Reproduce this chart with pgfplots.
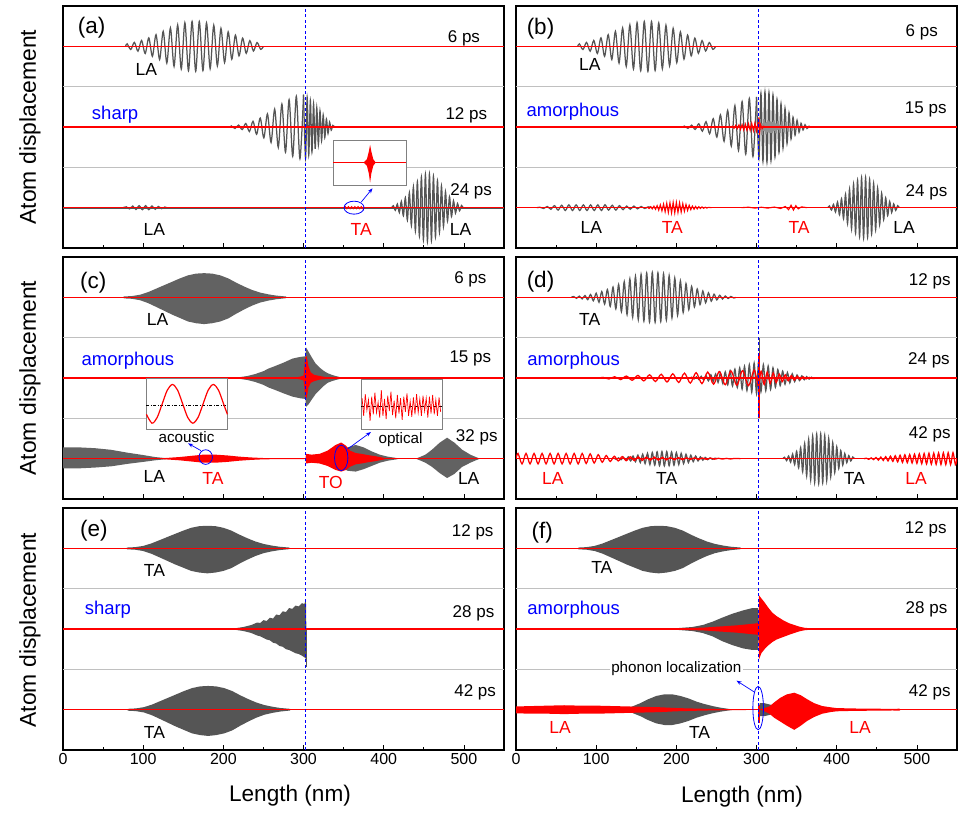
\documentclass[border=0pt]{standalone}
\usepackage{pgfplots}
\pgfplotsset{compat=1.18}
\usepackage{pgfplotstable}
\usetikzlibrary{arrows.meta}
\usepackage{fontspec}
\setmainfont{Liberation Sans}
\definecolor{dg}{HTML}{555555}
\definecolor{cg}{HTML}{626262}
\definecolor{sepg}{HTML}{C0C0C0}
\definecolor{rr}{HTML}{FF0000}
\definecolor{bb}{HTML}{0000FF}
\newcommand\fntps{\fontsize{17}{17}\selectfont}
\newcommand\fntla{\fontsize{17.5}{17.5}\selectfont}
\newcommand\fntam{\fontsize{18.5}{18.5}\selectfont}
\newcommand\fntpl{\fontsize{22.5}{22.5}\selectfont}
\newcommand\fntsm{\fontsize{15.2}{15.2}\selectfont}

% ---------- zigzag (oscillation) tables: x y ----------
\pgfplotstableread[row sep=\\]{x y\\
78 0\\ 80 0.031\\ 84.5 -0.039\\ 89 0.049\\ 93.5 -0.060\\ 98 0.073\\ 102.5 -0.089\\ 107 0.105\\ 111.5 -0.124\\ 116 0.144\\ 120.5 -0.164\\ 125 0.186\\ 129.5 -0.207\\ 134 0.228\\ 138.5 -0.248\\ 143 0.265\\ 147.5 -0.281\\ 152 0.294\\ 156.5 -0.303\\ 161 0.309\\ 165.5 -0.31\\ 170 0.308\\ 174.5 -0.301\\ 179 0.291\\ 183.5 -0.277\\ 188 0.261\\ 192.5 -0.242\\ 197 0.223\\ 201.5 -0.201\\ 206 0.180\\ 210.5 -0.159\\ 215 0.139\\ 219.5 -0.119\\ 224 0.102\\ 228.5 -0.086\\ 233 0.071\\ 237.5 -0.058\\ 242 0.047\\ 246.5 -0.037\\ 250 0\\}\tLAsix

\pgfplotstableread[row sep=\\]{x y\\
208 0\\ 210 0.013\\ 214.5 -0.018\\ 219 0.024\\ 223.5 -0.032\\ 228 0.043\\ 232.5 -0.056\\ 237 0.071\\ 241.5 -0.090\\ 246 0.111\\ 250.5 -0.135\\ 255 0.162\\ 259.5 -0.191\\ 264 0.222\\ 268.5 -0.253\\ 273 0.284\\ 277.5 -0.313\\ 282 0.340\\ 286.5 -0.363\\ 291 0.381\\ 295.5 -0.393\\ 300 0.40\\}\tMidL

\pgfplotstableread[row sep=\\]{x y\\
300 0.40\\ 302.5 -0.39\\ 304.5 0.37\\ 306.5 -0.35\\ 308.5 0.33\\ 310.5 -0.31\\ 312.5 0.29\\ 314.5 -0.27\\ 316.5 0.24\\ 318.5 -0.22\\ 320.5 0.2\\ 322.5 -0.17\\ 324.5 0.15\\ 326.5 -0.13\\ 328.5 0.1\\ 330.5 -0.08\\ 332.5 0.06\\ 334.5 -0.04\\ 336.5 0.02\\ 338.5 0\\}\tRa

\pgfplotstableread[row sep=\\]{x y\\
300 0.40\\ 303 -0.42\\ 305.5 0.45\\ 308 -0.46\\ 310.5 0.47\\ 313 -0.47\\ 315.5 0.46\\ 318 -0.45\\ 320.5 0.43\\ 323 -0.40\\ 325.5 0.37\\ 328 -0.34\\ 330.5 0.31\\ 333 -0.28\\ 335.5 0.25\\ 338 -0.22\\ 340.5 0.19\\ 343 -0.16\\ 345.5 0.13\\ 348 -0.11\\ 350.5 0.09\\ 353 -0.07\\ 355.5 0.05\\ 358 -0.04\\ 360.5 0.03\\ 363 -0.02\\ 365.5 0.01\\ 367 0\\}\tRb

\pgfplotstableread[row sep=\\]{x y\\
410 0\\ 412 0.024\\ 414.5 -0.033\\ 417 0.045\\ 419.5 -0.060\\ 422 0.078\\ 424.5 -0.100\\ 427 0.125\\ 429.5 -0.154\\ 432 0.186\\ 434.5 -0.220\\ 437 0.255\\ 439.5 -0.290\\ 442 0.324\\ 444.5 -0.354\\ 447 0.380\\ 449.5 -0.401\\ 452 0.414\\ 454.5 -0.42\\ 457 0.417\\ 459.5 -0.407\\ 462 0.389\\ 464.5 -0.365\\ 467 0.336\\ 469.5 -0.304\\ 472 0.269\\ 474.5 -0.234\\ 477 0.199\\ 479.5 -0.166\\ 482 0.136\\ 484.5 -0.110\\ 487 0.086\\ 489.5 -0.067\\ 492 0.051\\ 494.5 -0.038\\ 497 0.028\\ 499 0\\}\tBig

\pgfplotstableread[row sep=\\]{x y\\
75 0\\ 79 0.01\\ 83 -0.015\\ 87 0.02\\ 91 -0.022\\ 95 0.025\\ 99 -0.025\\ 103 0.025\\ 107 -0.025\\ 111 0.022\\ 115 -0.02\\ 119 0.015\\ 123 -0.012\\ 127 0.008\\ 131 -0.005\\ 135 0\\}\tAbs

\pgfplotstableread[row sep=\\]{x y\\
350 0\\ 352 0.012\\ 354 -0.012\\ 356 0.012\\ 358 -0.012\\ 360 0.012\\ 362 -0.012\\ 364 0.012\\ 366 -0.012\\ 368 0.012\\ 370 -0.012\\ 372 0.012\\ 374 -0.012\\ 376 0\\}\tAbr

\pgfplotstableread[row sep=\\]{x y\\
268 0\\ 270 0.01\\ 272 -0.015\\ 274 0.02\\ 276 -0.02\\ 278 0.025\\ 280 -0.03\\ 282 0.03\\ 284 -0.035\\ 286 0.035\\ 288 -0.04\\ 290 0.04\\ 292 -0.04\\ 294 0.045\\ 296 -0.045\\ 298 0.05\\ 300 -0.05\\ 302 0.05\\ 303 0.12\\ 303.5 -0.1\\ 305 0.03\\ 307 -0.02\\ 309 0.01\\ 311 0\\}\tBmR

\pgfplotstableread[row sep=\\]{x y\\
26 0\\ 30 0.005\\ 34.5 -0.01\\ 39 0.015\\ 43.5 -0.02\\ 48 0.025\\ 52.5 -0.03\\ 57 0.03\\ 61.5 -0.035\\ 66 0.035\\ 70.5 -0.035\\ 75 0.035\\ 79.5 -0.035\\ 84 0.035\\ 88.5 -0.035\\ 93 0.035\\ 97.5 -0.035\\ 102 0.035\\ 106.5 -0.035\\ 111 0.035\\ 115.5 -0.03\\ 120 0.03\\ 124.5 -0.03\\ 129 0.025\\ 133.5 -0.025\\ 138 0.02\\ 142.5 -0.02\\ 147 0.02\\ 151.5 -0.015\\ 156 0.015\\ 160.5 -0.01\\ 165 0.01\\ 170 0\\}\tBbG

\pgfplotstableread[row sep=\\]{x y\\
162 0\\ 164 0.005\\ 166 -0.01\\ 168 0.012\\ 170 -0.015\\ 172 0.018\\ 174 -0.02\\ 176 0.025\\ 178 -0.03\\ 180 0.035\\ 182 -0.04\\ 184 0.045\\ 186 -0.05\\ 188 0.055\\ 190 -0.06\\ 192 0.06\\ 194 -0.065\\ 196 0.065\\ 198 -0.065\\ 200 0.065\\ 202 -0.06\\ 204 0.06\\ 206 -0.055\\ 208 0.05\\ 210 -0.045\\ 212 0.04\\ 214 -0.035\\ 216 0.03\\ 218 -0.025\\ 220 0.02\\ 222 -0.02\\ 224 0.015\\ 226 -0.015\\ 228 0.012\\ 230 -0.01\\ 232 0.01\\ 234 -0.008\\ 236 0.006\\ 238 -0.005\\ 240 0.004\\ 244 0\\}\tBbR

\pgfplotstableread[row sep=\\]{x y\\
281 0\\ 290 0.006\\ 298 -0.006\\ 306 0.006\\ 314 -0.006\\ 322 0.008\\ 330 -0.01\\ 336 0.015\\ 340 -0.025\\ 343 0.03\\ 346 -0.03\\ 349 0.025\\ 352 -0.015\\ 356 0.01\\ 363 0\\}\tBbRt

\pgfplotstableread[row sep=\\]{x y\\
69 0\\ 72 0.01\\ 75.5 -0.012\\ 79 0.015\\ 82.5 -0.019\\ 86 0.023\\ 89.5 -0.029\\ 93 0.035\\ 96.5 -0.043\\ 100 0.051\\ 103.5 -0.061\\ 107 0.072\\ 110.5 -0.084\\ 114 0.097\\ 117.5 -0.112\\ 121 0.127\\ 124.5 -0.143\\ 128 0.160\\ 131.5 -0.178\\ 135 0.195\\ 138.5 -0.213\\ 142 0.230\\ 145.5 -0.246\\ 149 0.261\\ 152.5 -0.274\\ 156 0.286\\ 159.5 -0.296\\ 163 0.303\\ 166.5 -0.307\\ 170 0.31\\ 173.5 -0.31\\ 177 0.306\\ 180.5 -0.300\\ 184 0.292\\ 187.5 -0.281\\ 191 0.269\\ 194.5 -0.254\\ 198 0.239\\ 201.5 -0.222\\ 205 0.205\\ 208.5 -0.188\\ 212 0.170\\ 215.5 -0.153\\ 219 0.136\\ 222.5 -0.120\\ 226 0.105\\ 229.5 -0.091\\ 233 0.079\\ 236.5 -0.067\\ 240 0.056\\ 243.5 -0.047\\ 247 0.039\\ 250.5 -0.032\\ 254 0.026\\ 257.5 -0.021\\ 261 0.017\\ 264.5 -0.014\\ 268 0.011\\ 271.5 -0.008\\ 274 0\\}\tTAd

\pgfplotstableread[row sep=\\]{x y\\
217 0\\ 219 0.01\\ 222 -0.012\\ 225 0.015\\ 228 -0.018\\ 231 0.021\\ 234 -0.025\\ 237 0.03\\ 240 -0.035\\ 243 0.04\\ 246 -0.045\\ 249 0.05\\ 252 -0.055\\ 255 0.062\\ 258 -0.07\\ 261 0.077\\ 264 -0.085\\ 267 0.093\\ 270 -0.1\\ 273 0.11\\ 276 -0.118\\ 279 0.127\\ 282 -0.137\\ 285 0.146\\ 288 -0.155\\ 291 0.165\\ 294 -0.175\\ 297 0.185\\ 300 -0.195\\ 302.5 0.2\\ 305.5 -0.17\\ 308.5 0.165\\ 311.5 -0.158\\ 314.5 0.15\\ 317.5 -0.14\\ 320.5 0.127\\ 323.5 -0.115\\ 326.5 0.105\\ 329.5 -0.095\\ 332.5 0.086\\ 335.5 -0.077\\ 338.5 0.068\\ 341.5 -0.06\\ 344.5 0.052\\ 347.5 -0.045\\ 350.5 0.038\\ 353.5 -0.032\\ 356.5 0.027\\ 359.5 -0.022\\ 362.5 0.018\\ 365.5 -0.014\\ 368.5 0.01\\ 371.5 -0.007\\ 374.5 0.004\\ 377 0\\}\tDmG

\pgfplotstableread[row sep=\\]{x y\\
105 0\\ 108.6 0.008\\ 115.9 -0.012\\ 123.1 0.016\\ 130.4 -0.02\\ 137.6 0.024\\ 144.9 -0.028\\ 152.1 0.032\\ 159.4 -0.036\\ 166.6 0.04\\ 173.9 -0.043\\ 181.1 0.046\\ 188.4 -0.05\\ 195.6 0.053\\ 202.9 -0.056\\ 210.1 0.06\\ 217.4 -0.063\\ 224.6 0.067\\ 231.9 -0.07\\ 239.1 0.074\\ 246.4 -0.077\\ 253.6 0.08\\ 260.9 -0.083\\ 268.1 0.086\\ 275.4 -0.089\\ 282.6 0.092\\ 289.9 -0.095\\ 297.1 0.098\\ 302 -0.09\\ 305.75 0.085\\ 309.5 -0.08\\ 313.25 0.074\\ 317 -0.068\\ 320.75 0.062\\ 324.5 -0.056\\ 328.25 0.05\\ 332 -0.045\\ 335.75 0.04\\ 339.5 -0.035\\ 343.25 0.03\\ 347 -0.026\\ 350.75 0.022\\ 354.5 -0.018\\ 358.25 0.014\\ 362 -0.011\\ 365.75 0.008\\ 369.5 -0.005\\ 373.25 0.003\\ 377 0\\}\tDmR

\pgfplotstableread[row sep=\\]{x y\\
0 0\\ 2.5 0.065\\ 7.5 -0.065\\ 12.5 0.065\\ 17.5 -0.065\\ 22.5 0.065\\ 27.5 -0.065\\ 32.5 0.065\\ 37.5 -0.065\\ 42.5 0.065\\ 47.5 -0.065\\ 52.5 0.065\\ 57.5 -0.065\\ 62.5 0.065\\ 67.5 -0.065\\ 72.5 0.065\\ 77.5 -0.065\\ 82.5 0.065\\ 87.5 -0.06\\ 92.5 0.06\\ 97.5 -0.055\\ 102.5 0.05\\ 107.5 -0.045\\ 112.5 0.04\\ 117.5 -0.035\\ 122.5 0.03\\ 127.5 -0.028\\ 132.5 0.026\\ 137.5 -0.025\\ 142.5 0.024\\ 147.5 -0.023\\ 152.5 0.022\\ 157.5 -0.021\\ 162.5 0.02\\ 167.5 -0.02\\ 172.5 0.019\\ 177.5 -0.018\\ 182.5 0.017\\ 187.5 -0.016\\ 192.5 0.015\\ 197.5 -0.014\\ 202.5 0.013\\ 207.5 -0.012\\ 212.5 0.011\\ 217.5 -0.01\\ 222.5 0.01\\ 227.5 -0.009\\ 232.5 0.008\\ 237.5 -0.008\\ 242.5 0.007\\ 247.5 -0.006\\ 252.5 0.005\\ 257.5 -0.005\\ 262.5 0.004\\ 267.5 -0.004\\ 272.5 0.003\\ 280 0\\}\tDbL

\pgfplotstableread[row sep=\\]{x y\\
119 0\\ 122 0.006\\ 125 -0.008\\ 128 0.010\\ 131 -0.013\\ 134 0.016\\ 137 -0.019\\ 140 0.023\\ 143 -0.028\\ 146 0.033\\ 149 -0.038\\ 152 0.044\\ 155 -0.049\\ 158 0.055\\ 161 -0.061\\ 164 0.067\\ 167 -0.073\\ 170 0.077\\ 173 -0.082\\ 176 0.085\\ 179 -0.088\\ 182 0.089\\ 185 -0.09\\ 188 0.089\\ 191 -0.088\\ 194 0.085\\ 197 -0.082\\ 200 0.077\\ 203 -0.073\\ 206 0.067\\ 209 -0.061\\ 212 0.055\\ 215 -0.049\\ 218 0.044\\ 221 -0.038\\ 224 0.033\\ 227 -0.028\\ 230 0.023\\ 233 -0.019\\ 236 0.016\\ 239 -0.013\\ 242 0.010\\ 245 -0.008\\ 248 0.006\\ 251 0\\}\tDbT

\pgfplotstableread[row sep=\\]{x y\\
434 0\\ 437 0.005\\ 440 -0.008\\ 443 0.01\\ 446 -0.012\\ 449 0.015\\ 452 -0.018\\ 455 0.02\\ 458 -0.022\\ 461 0.025\\ 464 -0.028\\ 467 0.031\\ 470 -0.034\\ 473 0.037\\ 476 -0.04\\ 479 0.043\\ 482 -0.046\\ 485 0.048\\ 488 -0.05\\ 491 0.052\\ 494 -0.054\\ 497 0.056\\ 500 -0.058\\ 503 0.06\\ 506 -0.062\\ 509 0.064\\ 512 -0.065\\ 515 0.067\\ 518 -0.068\\ 521 0.07\\ 524 -0.07\\ 527 0.072\\ 530 -0.072\\ 533 0.073\\ 536 -0.073\\ 539 0.074\\ 542 -0.074\\ 545 0.075\\ 548 -0.075\\ 550 0\\}\tDbR

\pgfplotstableread[row sep=\\]{x y\\
104 0.55\\ 111 0.44\\ 117.4 0.51\\ 123.75 0.68\\ 130.1 0.85\\ 136.5 0.92\\ 142.9 0.85\\ 149.25 0.68\\ 155.6 0.51\\ 162 0.44\\ 168.4 0.51\\ 174.75 0.68\\ 181.1 0.85\\ 187.5 0.92\\ 193.9 0.85\\ 200.25 0.68\\ 205 0.55\\}\tAc

\pgfplotstableread[row sep=\\]{x y\\
373 0.1\\ 375 -0.12\\ 377 0.15\\ 379 -0.05\\ 381 0.08\\ 383 -0.18\\ 385 0.12\\ 387 -0.1\\ 389 0.17\\ 391 -0.08\\ 393 0.05\\ 395 -0.14\\ 397 0.2\\ 399 -0.12\\ 401 0.09\\ 403 -0.16\\ 405 0.13\\ 407 -0.06\\ 409 0.18\\ 411 -0.11\\ 413 0.07\\ 415 -0.15\\ 417 0.14\\ 419 -0.09\\ 421 0.1\\ 423 -0.17\\ 425 0.12\\ 427 -0.07\\ 429 0.16\\ 431 -0.12\\ 433 0.06\\ 435 -0.13\\ 437 0.11\\ 439 -0.1\\ 441 0.15\\ 443 -0.08\\ 445 0.09\\ 447 -0.12\\ 449 0.13\\ 451 -0.06\\ 453 0.1\\ 455 -0.14\\ 457 0.12\\ 459 -0.09\\ 461 0.14\\ 463 -0.1\\ 465 0.08\\ 467 -0.12\\ 469 0.11\\ 471 -0.07\\}\tOp

% ---------- envelope tables: x upper lower (each starts and ends at zero) ----------
\pgfplotstableread[row sep=\\]{x u l\\
79 0 0\\ 80 0.01 0.012\\ 90 0.015 0.017\\ 100 0.03 0.033\\ 110 0.06 0.066\\ 120 0.10 0.11\\ 130 0.14 0.155\\ 140 0.18 0.2\\ 150 0.22 0.24\\ 160 0.255 0.28\\ 170 0.275 0.3\\ 180 0.28 0.31\\ 190 0.275 0.3\\ 200 0.255 0.28\\ 210 0.22 0.245\\ 220 0.17 0.19\\ 230 0.125 0.14\\ 240 0.085 0.095\\ 250 0.055 0.06\\ 260 0.035 0.038\\ 270 0.02 0.022\\ 282 0.01 0.01\\ 283 0 0\\}\tTAdense

\pgfplotstableread[row sep=\\]{x u l\\
375 0 0\\ 379 0.04 0.04\\ 381.5 0.14 0.14\\ 383 0.22 0.25\\ 384.5 0.14 0.14\\ 387 0.04 0.04\\ 390 0 0\\}\tDia

\pgfplotstableread[row sep=\\]{x u l\\
207 0 0\\ 208 0.003 0.003\\ 220 0.01 0.01\\ 230 0.025 0.025\\ 240 0.05 0.05\\ 250 0.085 0.085\\ 257 0.12 0.12\\ 265 0.15 0.15\\ 275 0.19 0.19\\ 286 0.24 0.23\\ 295 0.26 0.25\\ 302.5 0.27 0.26\\ 303 0.38 0.36\\ 306 0.33 0.33\\ 310 0.26 0.27\\ 315 0.18 0.2\\ 320 0.13 0.15\\ 325 0.09 0.1\\ 330 0.06 0.06\\ 335 0.04 0.04\\ 340 0.025 0.025\\ 345 0.012 0.012\\ 350 0.005 0.005\\ 352 0 0\\}\tCmid

\pgfplotstableread[row sep=\\]{x u l\\
285 0 0\\ 295 0.015 0.015\\ 300 0.03 0.03\\ 302 0.25 0.22\\ 304 0.27 0.25\\ 306 0.15 0.12\\ 309 0.07 0.06\\ 313 0.04 0.04\\ 320 0.025 0.02\\ 328 0.01 0.01\\ 336 0 0\\}\tCmidR

\pgfplotstableread[row sep=\\]{x u l\\
0 0 0\\ 0.1 0.14 0.12\\ 20 0.14 0.12\\ 40 0.13 0.11\\ 60 0.11 0.095\\ 80 0.075 0.065\\ 100 0.045 0.04\\ 115 0.02 0.02\\ 130 0.005 0.005\\ 135 0 0\\}\tCbl

\pgfplotstableread[row sep=\\]{x u l\\
115 0 0\\ 130 0.01 0.01\\ 145 0.02 0.02\\ 160 0.035 0.035\\ 175 0.05 0.05\\ 190 0.05 0.05\\ 205 0.04 0.04\\ 220 0.025 0.025\\ 235 0.015 0.015\\ 250 0.008 0.008\\ 275 0.005 0.005\\ 302 0.004 0.004\\ 303 0 0\\}\tCbTA

\pgfplotstableread[row sep=\\]{x u l\\
335 0 0\\ 345 0.1 0.1\\ 355 0.14 0.15\\ 365 0.17 0.16\\ 375 0.14 0.13\\ 385 0.09 0.09\\ 395 0.05 0.05\\ 405 0.025 0.025\\ 415 0.01 0.01\\ 420 0 0\\}\tCbG

\pgfplotstableread[row sep=\\]{x u l\\
302.5 0 0\\ 303 0.06 0.06\\ 310 0.05 0.05\\ 320 0.06 0.06\\ 330 0.1 0.09\\ 340 0.17 0.14\\ 347 0.2 0.16\\ 353 0.16 0.14\\ 358 0.1 0.1\\ 365 0.07 0.07\\ 372 0.06 0.06\\ 380 0.045 0.045\\ 390 0.03 0.03\\ 400 0.01 0.01\\ 403 0 0\\}\tCbTO

\pgfplotstableread[row sep=\\]{x u l\\
440 0 0\\ 445 0.02 0.02\\ 452 0.05 0.05\\ 460 0.11 0.1\\ 470 0.2 0.18\\ 479 0.26 0.24\\ 488 0.2 0.19\\ 498 0.11 0.1\\ 508 0.05 0.05\\ 515 0.02 0.02\\ 520 0 0\\}\tCbR

\pgfplotstableread[row sep=\\]{x u l\\
198 0 0\\ 205 0.003 0.003\\ 215 0.01 0.01\\ 225 0.025 0.025\\ 235 0.05 0.05\\ 242 0.08 0.08\\ 246 0.075 0.09\\ 250 0.11 0.11\\ 254 0.10 0.13\\ 258 0.14 0.14\\ 262 0.13 0.17\\ 266 0.18 0.18\\ 270 0.17 0.21\\ 274 0.22 0.22\\ 278 0.21 0.25\\ 282 0.26 0.26\\ 286 0.25 0.28\\ 290 0.29 0.30\\ 294 0.28 0.31\\ 298 0.32 0.33\\ 301 0.31 0.35\\ 303 0.36 0.37\\ 303.5 0 0\\}\tEm

\pgfplotstableread[row sep=\\]{x u l\\
149 0 0\\ 150 0.003 0.003\\ 200 0.01 0.01\\ 220 0.025 0.025\\ 233 0.05 0.05\\ 245 0.09 0.09\\ 257 0.14 0.15\\ 270 0.19 0.2\\ 283 0.23 0.24\\ 295 0.26 0.26\\ 302 0.26 0.26\\ 303 0 0\\}\tFmG

\pgfplotstableread[row sep=\\]{x u l\\
143 0 0\\ 144 0.003 0.003\\ 200 0.008 0.008\\ 233 0.017 0.017\\ 257 0.033 0.033\\ 275 0.045 0.045\\ 290 0.06 0.06\\ 300 0.07 0.07\\ 302.5 0.08 0.08\\ 303 0.42 0.38\\ 306 0.38 0.3\\ 310 0.33 0.25\\ 315 0.26 0.2\\ 320 0.2 0.16\\ 325 0.16 0.13\\ 333 0.11 0.1\\ 341 0.07 0.07\\ 353 0.03 0.03\\ 360 0.015 0.015\\ 366 0.01 0.01\\ 370 0.012 0.012\\ 372 0.005 0.005\\ 373 0 0\\}\tFmR

\pgfplotstableread[row sep=\\]{x u l\\
128 0 0\\ 135 0.01 0.01\\ 145 0.04 0.04\\ 155 0.08 0.08\\ 165 0.13 0.13\\ 175 0.17 0.17\\ 185 0.19 0.19\\ 195 0.19 0.19\\ 205 0.17 0.17\\ 215 0.14 0.14\\ 225 0.1 0.1\\ 235 0.07 0.07\\ 245 0.045 0.045\\ 255 0.025 0.025\\ 265 0.01 0.01\\ 272 0 0\\}\tFbG

\pgfplotstableread[row sep=\\]{x u l\\
0 0 0\\ 0.1 0.04 0.045\\ 20 0.045 0.05\\ 40 0.05 0.05\\ 60 0.055 0.055\\ 80 0.05 0.05\\ 100 0.05 0.05\\ 120 0.045 0.045\\ 140 0.04 0.04\\ 160 0.035 0.035\\ 180 0.03 0.03\\ 200 0.02 0.02\\ 230 0.012 0.012\\ 260 0.006 0.006\\ 300 0.003 0.003\\ 302 0 0\\}\tFbRL

\pgfplotstableread[row sep=\\]{x u l\\
302 0 0\\ 304 0.08 0.08\\ 310 0.08 0.08\\ 318 0.06 0.06\\ 326 0.04 0.04\\ 335 0.015 0.015\\ 340 0 0\\}\tFbGb

\pgfplotstableread[row sep=\\]{x u l\\
305 0 0\\ 310 0.02 0.02\\ 316 0.04 0.05\\ 322 0.09 0.1\\ 330 0.15 0.15\\ 338 0.19 0.2\\ 347 0.21 0.25\\ 355 0.18 0.2\\ 363 0.13 0.14\\ 372 0.08 0.09\\ 382 0.045 0.05\\ 392 0.03 0.03\\ 400 0.02 0.02\\ 420 0.015 0.015\\ 450 0.012 0.012\\ 470 0.01 0.01\\ 478 0.012 0.012\\ 480 0 0\\}\tFbRR

% ---------- helpers ----------
\newcommand{\zz}[5]{\addplot[#5, line width=1.25pt, smooth, forget plot] table[x expr=#2, y expr={#3+#4*\thisrow{y}}] {#1};}
\newcommand{\zs}[5]{\addplot[#5, line width=1.1pt, forget plot] table[x expr=#2, y expr={#3+#4*\thisrow{y}}] {#1};}
% envelope: upper half and lower half filled separately (each path closes along the baseline)
\newcommand{\env}[5]{%
 \addplot[fill=#5, draw=none, forget plot] table[x expr=#2, y expr={#3+#4*\thisrow{u}}] {#1};
 \addplot[fill=#5, draw=none, forget plot] table[x expr=#2, y expr={#3-#4*\thisrow{l}}] {#1};}
\newcommand{\seps}{%
 \addplot[sepg, line width=0.9pt] coordinates {(0,0.5)(550,0.5)};
 \addplot[sepg, line width=0.9pt] coordinates {(0,1.5)(550,1.5)};}
\newcommand{\bases}{%
 \addplot[rr, line width=1.1pt] coordinates {(0,2)(550,2)};
 \addplot[rr, line width=1.1pt] coordinates {(0,1)(550,1)};
 \addplot[rr, line width=1.1pt] coordinates {(0,0)(550,0)};}
\newcommand{\iface}{\addplot[bb, line width=0.95pt, dash pattern=on 3pt off 2.5pt] coordinates {(303,-0.5)(303,2.5)};}

\pgfplotsset{
 panel/.style={
  scale only axis, width=441pt, height=242pt,
  xmin=0, xmax=550, ymin=-0.5, ymax=2.5,
  axis line style={line width=1.1pt},
  xtick={0,100,200,300,400,500},
  minor xtick={50,150,250,350,450},
  xtick pos=left, ytick=\empty,
  tick align=inside,
  major tick length=5pt, minor tick length=3pt,
  tick style={black, line width=0.8pt},
  tick label style={font=\fontsize{16}{16}\selectfont},
  /pgf/number format/assume math mode=true,
  anchor=south west,
 },
 notick/.style={xticklabels={}},
}

\begin{document}
\begin{tikzpicture}
\path[use as bounding box] (0,0) rectangle (974pt,-814pt);

% ================= (a) =================
\begin{axis}[panel, notick, at={(63pt,-248pt)}]
\seps
\zz{\tLAsix}{\thisrow{x}}{2}{1}{dg}
\zz{\tMidL}{\thisrow{x}}{1}{1}{dg}
\zz{\tRa}{\thisrow{x}}{1}{1}{dg}
\addplot[dg, line width=1pt] coordinates {(0,-0.015)(550,-0.015)};
\zz{\tAbs}{\thisrow{x}}{0}{1}{dg}
\zz{\tBig}{\thisrow{x}}{0}{1}{dg}
\bases
\zs{\tAbr}{\thisrow{x}}{0}{1}{rr}
\draw[gray, line width=0.8pt, fill=white] (axis cs:337,0.27) rectangle (axis cs:428,0.83);
\addplot[rr, line width=1pt] coordinates {(337,0.56)(428,0.56)};
\env{\tDia}{\thisrow{x}}{0.56}{1}{rr}
\draw[bb, line width=0.8pt] (axis cs:363,0) ellipse (10pt and 6.5pt);
\draw[bb, line width=0.7pt, -{Stealth[length=5pt]}] (axis cs:372,0.07) -- (axis cs:386,0.24);
\node[anchor=west, font=\fntpl] at (axis cs:14,2.23) {(a)};
\node[font=\fntps] at (axis cs:500,2.1) {6 ps};
\node[font=\fntla] at (axis cs:104,1.71) {LA};
\node[font=\fntam, text=bb] at (axis cs:65,1.155) {sharp};
\node[font=\fntps] at (axis cs:503,1.15) {12 ps};
\node[font=\fntps] at (axis cs:509,0.2) {24 ps};
\node[font=\fntla] at (axis cs:114,-0.265) {LA};
\node[font=\fntla, text=rr] at (axis cs:372,-0.265) {TA};
\node[font=\fntla] at (axis cs:496,-0.265) {LA};
\iface
\end{axis}

% ================= (b) =================
\begin{axis}[panel, notick, at={(516pt,-248pt)}]
\seps
\zz{\tLAsix}{\thisrow{x}-1}{2}{1}{dg}
\zz{\tMidL}{\thisrow{x}}{1}{0.93}{dg}
\zz{\tRb}{\thisrow{x}}{1}{0.93}{dg}
\zz{\tBbG}{\thisrow{x}}{0}{1}{dg}
\zz{\tBig}{\thisrow{x}-21}{0}{0.9}{dg}
\bases
\zs{\tBmR}{\thisrow{x}}{1}{1}{rr}
\zs{\tBbR}{\thisrow{x}}{0}{1}{rr}
\zs{\tBbRt}{\thisrow{x}}{0}{1}{rr}
\node[anchor=west, font=\fntpl] at (axis cs:9,2.22) {(b)};
\node[font=\fntps] at (axis cs:506,2.17) {6 ps};
\node[font=\fntla] at (axis cs:92,1.77) {LA};
\node[font=\fntam, text=bb] at (axis cs:71,1.195) {amorphous};
\node[font=\fntps] at (axis cs:511,1.215) {15 ps};
\node[font=\fntps] at (axis cs:512,0.195) {24 ps};
\node[font=\fntla] at (axis cs:94,-0.245) {LA};
\node[font=\fntla, text=rr] at (axis cs:195,-0.245) {TA};
\node[font=\fntla, text=rr] at (axis cs:353,-0.245) {TA};
\node[font=\fntla] at (axis cs:484,-0.245) {LA};
\iface
\end{axis}

% ================= (c) =================
\begin{axis}[panel, notick, at={(63pt,-499pt)}]
\seps
\env{\tTAdense}{\thisrow{x}-4}{2}{1.07}{cg}
\env{\tCmid}{\thisrow{x}}{1}{1}{cg}
\env{\tCbl}{\thisrow{x}}{0}{1}{cg}
\env{\tCbG}{\thisrow{x}}{0}{1}{cg}
\env{\tCbR}{\thisrow{x}}{0}{1}{cg}
\bases
\env{\tCmidR}{\thisrow{x}}{1}{1}{rr}
\env{\tCbTA}{\thisrow{x}}{0}{1}{rr}
\env{\tCbTO}{\thisrow{x}}{0}{1}{rr}
\draw[gray, line width=0.8pt, fill=white] (axis cs:104,0.36) rectangle (axis cs:205,0.99);
\addplot[black, line width=0.6pt, dash pattern=on 3pt off 1.5pt on 1pt off 1.5pt] coordinates {(104,0.66)(205,0.66)};
\addplot[rr, line width=1.2pt, smooth] table {\tAc};
\draw[gray, line width=0.8pt, fill=white] (axis cs:372,0.36) rectangle (axis cs:473,0.98);
\addplot[black, line width=0.6pt, dashed] coordinates {(372,0.65)(473,0.65)};
\addplot[rr, line width=0.7pt] table[y expr={0.65+\thisrow{y}}] {\tOp};
\draw[bb, line width=0.8pt] (axis cs:178,0.02) ellipse (6.7pt and 7.3pt);
\draw[bb, line width=0.8pt] (axis cs:347,0.01) ellipse (6.7pt and 12.7pt);
\draw[bb, line width=0.7pt, -{Stealth[length=5pt]}] (axis cs:172,0.1) -- (axis cs:156,0.19);
\draw[bb, line width=0.7pt, -{Stealth[length=5pt]}] (axis cs:355,0.12) -- (axis cs:384,0.33);
\node[font=\fntsm] at (axis cs:154,0.27) {acoustic};
\node[font=\fntsm] at (axis cs:421,0.24) {optical};
\node[anchor=west, font=\fntpl] at (axis cs:17,2.18) {(c)};
\node[font=\fntps] at (axis cs:508,2.22) {6 ps};
\node[font=\fntla] at (axis cs:118,1.72) {LA};
\node[font=\fntam, text=bb] at (axis cs:81,1.22) {amorphous};
\node[font=\fntps] at (axis cs:508,1.24) {15 ps};
\node[font=\fntps] at (axis cs:516,0.27) {32 ps};
\node[font=\fntla] at (axis cs:114,-0.22) {LA};
\node[font=\fntla, text=rr] at (axis cs:187,-0.25) {TA};
\node[font=\fntla, text=rr] at (axis cs:334,-0.29) {TO};
\node[font=\fntla] at (axis cs:506,-0.25) {LA};
\iface
\end{axis}

% ================= (d) =================
\begin{axis}[panel, notick, at={(516pt,-499pt)}]
\seps
\zz{\tTAd}{\thisrow{x}}{2}{1}{dg}
\zz{\tDmG}{\thisrow{x}}{1}{1}{dg}
\addplot[dg, line width=1pt] coordinates {(303.5,1.3)(303.5,1.49)};
\zz{\tDbT}{\thisrow{x}}{0}{1}{dg}
\zz{\tBig}{\thisrow{x}-77}{0}{0.74}{dg}
\bases
\zz{\tDmR}{\thisrow{x}}{1}{1}{rr}
\addplot[rr, line width=2.4pt] coordinates {(303,1.31)(303,0.5)};
\zz{\tDbL}{\thisrow{x}}{0}{1}{rr}
\zz{\tDbR}{\thisrow{x}}{0}{1}{rr}
\node[anchor=west, font=\fntpl] at (axis cs:9,2.2) {(d)};
\node[font=\fntps] at (axis cs:516,2.2) {12 ps};
\node[font=\fntla] at (axis cs:92,1.73) {TA};
\node[font=\fntam, text=bb] at (axis cs:72,1.22) {amorphous};
\node[font=\fntps] at (axis cs:515,1.22) {24 ps};
\node[font=\fntps] at (axis cs:516,0.3) {42 ps};
\node[font=\fntla, text=rr] at (axis cs:46,-0.25) {LA};
\node[font=\fntla] at (axis cs:188,-0.25) {TA};
\node[font=\fntla] at (axis cs:422,-0.24) {TA};
\node[font=\fntla, text=rr] at (axis cs:499,-0.24) {LA};
\iface
\end{axis}

% ================= (e) =================
\begin{axis}[panel, at={(63pt,-750pt)}]
\seps
\env{\tTAdense}{\thisrow{x}}{2}{1}{dg}
\env{\tEm}{\thisrow{x}}{1}{1}{dg}
\addplot[dg, line width=1pt] coordinates {(303.2,1)(303.2,0.53)};
\env{\tTAdense}{\thisrow{x}+1}{0}{1.05}{dg}
\bases
\node[anchor=west, font=\fntpl] at (axis cs:17,2.22) {(e)};
\node[font=\fntps] at (axis cs:511,2.2) {12 ps};
\node[font=\fntla] at (axis cs:114,1.72) {TA};
\node[font=\fntam, text=bb] at (axis cs:56,1.24) {sharp};
\node[font=\fntps] at (axis cs:512,1.2) {28 ps};
\node[font=\fntps] at (axis cs:514,0.22) {42 ps};
\node[font=\fntla] at (axis cs:114,-0.28) {TA};
\iface
\end{axis}

% ================= (f) =================
\begin{axis}[panel, at={(516pt,-750pt)}]
\seps
\env{\tTAdense}{\thisrow{x}-2}{2}{1}{dg}
\env{\tFmG}{\thisrow{x}}{1}{1}{dg}
\env{\tFbG}{\thisrow{x}}{0}{1}{dg}
\env{\tFbGb}{\thisrow{x}}{0}{1}{dg}
\bases
\env{\tFmR}{\thisrow{x}}{1}{1}{rr}
\env{\tFbRL}{\thisrow{x}}{0}{1}{rr}
\env{\tFbRR}{\thisrow{x}}{0}{1}{rr}
\addplot[rr, line width=2pt] coordinates {(303.5,0.06)(303.5,-0.17)};
\node[font=\fntsm, fill=white, inner sep=1.5pt] at (axis cs:200,0.51) {phonon localization};
\draw[bb, line width=0.8pt] (axis cs:302,0.02) ellipse (5.3pt and 21.7pt);
\draw[bb, line width=0.7pt, -{Stealth[length=5pt]}] (axis cs:297,0.22) -- (axis cs:275,0.36);
\node[anchor=west, font=\fntpl] at (axis cs:15,2.2) {(f)};
\node[font=\fntps] at (axis cs:511,2.24) {12 ps};
\node[font=\fntla] at (axis cs:107,1.76) {TA};
\node[font=\fntam, text=bb] at (axis cs:72,1.24) {amorphous};
\node[font=\fntps] at (axis cs:512,1.24) {28 ps};
\node[font=\fntps] at (axis cs:516,0.22) {42 ps};
\node[font=\fntla, text=rr] at (axis cs:55,-0.22) {LA};
\node[font=\fntla] at (axis cs:229,-0.28) {TA};
\node[font=\fntla, text=rr] at (axis cs:429,-0.22) {LA};
\iface
\end{axis}

% ---------- axis titles ----------
\node[rotate=90, font=\fontsize{22.9}{22.9}\selectfont] at (30pt,-127pt) {Atom displacement};
\node[rotate=90, font=\fontsize{22.9}{22.9}\selectfont] at (30pt,-378pt) {Atom displacement};
\node[rotate=90, font=\fontsize{22.9}{22.9}\selectfont] at (30pt,-630pt) {Atom displacement};
\node[font=\fontsize{22.6}{22.6}\selectfont] at (290pt,-796pt) {Length (nm)};
\node[font=\fontsize{22.6}{22.6}\selectfont] at (742pt,-797pt) {Length (nm)};
\end{tikzpicture}
\end{document}
